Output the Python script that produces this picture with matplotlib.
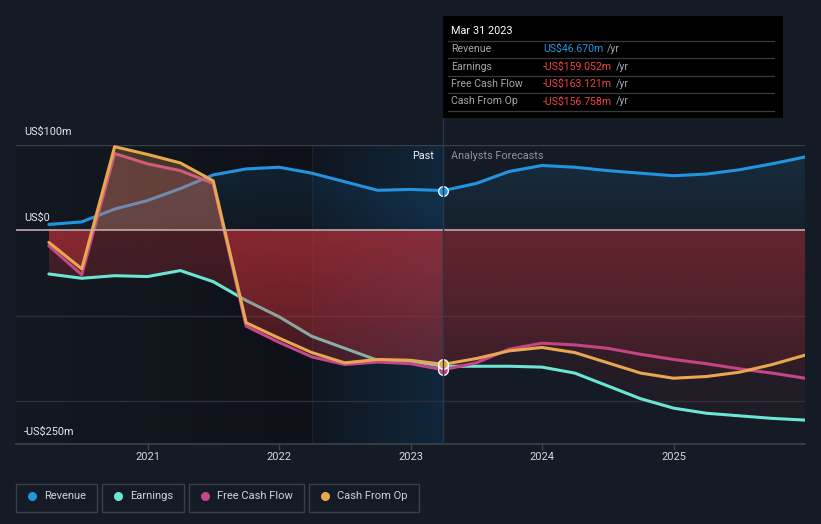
import matplotlib.pyplot as plt
import numpy as np
from matplotlib.lines import Line2D
from matplotlib.patches import Rectangle
from matplotlib.colors import to_rgb

plt.rcParams['font.family'] = ['Roboto', 'DejaVu Sans']

W, H = 821, 524
BG = '#151b24'

# quarterly points, past up to Mar 2023, analyst forecasts after
dates = [2020.25, 2020.5, 2020.75, 2021.0, 2021.25, 2021.5, 2021.75, 2022.0,
         2022.25, 2022.5, 2022.75, 2023.0, 2023.25,
         2023.5, 2023.75, 2024.0, 2024.25, 2024.5, 2024.75, 2025.0,
         2025.25, 2025.5, 2025.75, 2026.0]
revenue = [7, 10, 25, 35, 49, 65, 72, 74, 67, 57, 47, 48, 46.67,
           55, 69, 76, 74, 70, 67, 64, 66, 71, 78, 86]
earnings = [-51, -56, -53, -54, -47, -60, -82, -101, -124, -138, -152, -153, -159.05,
            -159, -159, -160, -167, -182, -197, -208, -214, -217, -220, -222]
fcf = [-18, -52, 90, 78, 70, 55, -112, -131, -148, -157, -154, -156, -163.12,
       -155, -139, -132, -134, -138, -145, -151, -156, -162, -167, -173]
cop = [-14, -45, 98, 89, 79, 58, -108, -126, -143, -155, -151, -152, -156.76,
       -150, -141, -137, -143, -155, -167, -173, -171, -166, -157, -146]
n_past = 13

names = ['Revenue', 'Earnings', 'Free Cash Flow', 'Cash From Op']
colors = ['#2394df', '#6ce5d5', '#c5468a', '#e8a84f']
tip_values = ['US$46.670m', '-US$159.052m', '-US$163.121m', '-US$156.758m']
year_ticks = [2021, 2022, 2023, 2024, 2025]


def fx(x):
    return x / W


def fy(y):
    return 1 - y / H


def hband(ax, x0, x1, c0, c1):
    img = np.zeros((1, 256, 3))
    for i in range(3):
        img[0, :, i] = np.linspace(c0[i], c1[i], 256) / 255
    ax.imshow(img, extent=(x0, x1, -250, 100), aspect='auto', zorder=0,
              interpolation='bilinear')


def grad_fill(ax, x, y, color, a_top, a_bot, y_top, y_bot, z):
    # area between line and zero, painted only inside [y_bot, y_top]
    poly = ax.fill_between(x, y, 0, facecolor='none', edgecolor='none')
    path = poly.get_paths()[0]
    poly.remove()
    img = np.zeros((256, 1, 4))
    img[:, 0, :3] = to_rgb(color)
    img[:, 0, 3] = np.linspace(a_top, a_bot, 256)
    im = ax.imshow(img, extent=(x[0], x[-1], y_bot, y_top), aspect='auto',
                   zorder=z, interpolation='bilinear')
    im.set_clip_path(path, transform=ax.transData)


fig = plt.figure(figsize=(W / 100, H / 100), dpi=100, facecolor=BG)
ax = fig.add_axes([fx(16), fy(444), (805 - 16) / W, (444 - 145) / H])
ax.axis('off')

x = np.array(dates)
xp, xf = x[:n_past], x[n_past - 1:]

# background: dark past, highlighted last year
hband(ax, 2020.0, 2022.25, (20, 25, 33), (14, 17, 23))
hband(ax, 2022.25, 2023.25, (15, 22, 32), (17, 39, 60))
ax.axvline(2022.25, color='white', alpha=0.05, lw=1, zorder=1)

ax.axhline(100, color='#3a404a', lw=1, zorder=1)
for g in (-100, -200):
    ax.axhline(g, color='#2a3039', lw=1, zorder=1)
ax.axhline(-250, color='#3c424c', lw=1.2, zorder=1, clip_on=False)

# revenue
rev = np.array(revenue)
grad_fill(ax, x, rev, colors[0], 0.16, 0.05, 100, 0, 2)
ax.plot(x, rev, color=colors[0], lw=2.2, zorder=3, solid_capstyle='round')

# earnings and cash flows
red = '#c8323c'
z = 4
for vals, col in zip([earnings, fcf, cop], colors[1:]):
    v = np.array(vals)
    grad_fill(ax, xp, v[:n_past], red, 0.30, 0.06, 0, -250, z)
    grad_fill(ax, xf, v[n_past - 1:], red, 0.18, 0.03, 0, -250, z)
    if v.max() > 0:
        grad_fill(ax, xp, v[:n_past], col, 0.24, 0.24, 100, 0, z)
    ax.plot(x, v, color=col, lw=2.2, zorder=z + 1, solid_capstyle='round')
    z += 2

ax.axhline(0, color='#c4a9ad', lw=1.2, zorder=10.5)

# current point markers
for vals, col in zip([revenue, earnings, fcf, cop], colors):
    ax.plot(dates[n_past - 1], vals[n_past - 1], 'o', ms=7, mfc=col, mec='white',
            mew=0.9, zorder=12)

ax.set_xlim(2020.0, 2026.0)
ax.set_ylim(-250, 100)

# vertical marker line
fig.add_artist(Line2D([fx(443), fx(443)], [fy(118), fy(444)], color='#25374a',
                      lw=1, transform=fig.transFigure, zorder=0.5))

# axis labels
for t in year_ticks:
    px = 16 + (t - 2020.0) * (789 / 6)
    fig.add_artist(Line2D([fx(px), fx(px)], [fy(444), fy(449)], color='#3c424c',
                          lw=1, transform=fig.transFigure))
    fig.text(fx(px), fy(457), str(t), color='#d4d7dc', fontsize=8,
             ha='center', va='center')

for lab, py in [('US$100m', 132), ('US$0', 218), ('-US$250m', 432)]:
    fig.text(fx(24), fy(py), lab, color='#e6e8eb', fontsize=7.8, ha='left', va='center')

fig.text(fx(434), fy(156), 'Past', color='#f0f0f0', fontsize=7.8, ha='right', va='center')
fig.text(fx(451), fy(156), 'Analysts Forecasts', color='#8e949b', fontsize=7.8,
         ha='left', va='center')

# tooltip
fig.add_artist(Rectangle((fx(443), fy(118)), (783 - 443) / W, (118 - 16) / H,
                         facecolor='black', edgecolor='none', transform=fig.transFigure,
                         zorder=20))
fig.text(fx(451), fy(31), 'Mar 31 2023', color='white', fontsize=7.8, ha='left',
         va='center', zorder=21)
for yl in (41, 58, 76, 93, 111):
    fig.add_artist(Line2D([fx(448), fx(774)], [fy(yl), fy(yl)], color='#3a3a3a',
                          lw=0.9, transform=fig.transFigure, zorder=21))
renderer = fig.canvas.get_renderer()
for i, (nm, val) in enumerate(zip(names, tip_values)):
    ty = 49 + i * 17.5
    fig.text(fx(451), fy(ty), nm, color='#a3a6ab', fontsize=7.6, ha='left',
             va='center', zorder=21)
    vc = colors[0] if i == 0 else '#ee4444'
    tv = fig.text(fx(543), fy(ty), val, color=vc, fontsize=7.6, ha='left',
                  va='center', zorder=21)
    ext = tv.get_window_extent(renderer)
    fig.text((ext.x1 + 4) / W, fy(ty), '/yr', color='#a3a6ab', fontsize=7.6,
             ha='left', va='center', zorder=21)

# legend
boxes = [(16, 97), (102, 184), (189, 304), (309, 419)]
for (b0, b1), nm, col in zip(boxes, names, colors):
    fig.add_artist(Rectangle((fx(b0), fy(512)), (b1 - b0) / W, 28 / H,
                             facecolor='none', edgecolor='#3a4049', lw=1,
                             transform=fig.transFigure))
    fig.add_artist(Line2D([fx(b0 + 16)], [fy(496)], marker='o', ms=6.5, color=col,
                          mec='none', transform=fig.transFigure))
    fig.text(fx(b0 + 28), fy(496), nm, color='#d0d3d8', fontsize=8, ha='left',
             va='center')

fig.savefig('out.png', dpi=100, facecolor=BG)
